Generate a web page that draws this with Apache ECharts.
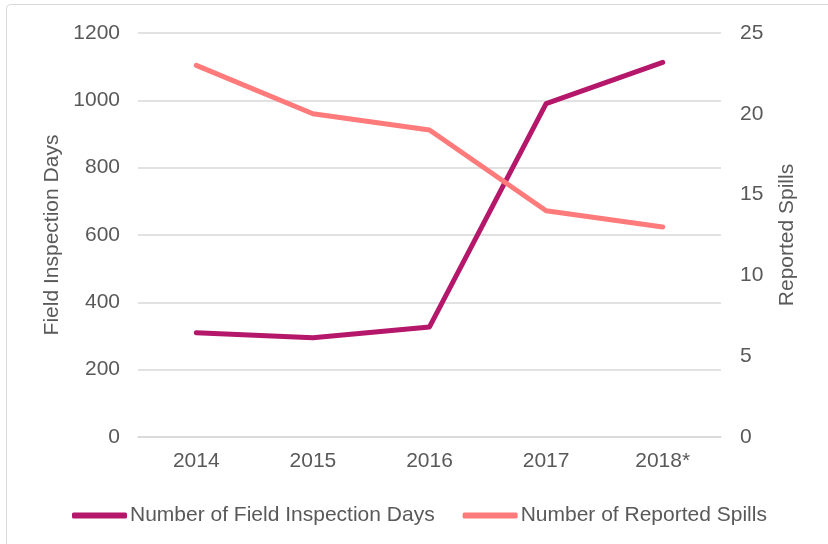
<!DOCTYPE html>
<html>
<head>
<meta charset="utf-8">
<script src="https://cdn.jsdelivr.net/npm/echarts@6/dist/echarts.min.js"></script>
<style>html,body{margin:0;padding:0;background:#fff}#c{width:828px;height:544px}</style>
</head>
<body>
<div id="c"></div>
<script>
var categories = ['2014', '2015', '2016', '2017', '2018*'];
var inspectionDays = [310, 295, 327, 990, 1113];
var reportedSpills = [23, 20, 19, 14, 13];
var leftTicks = {min: 0, max: 1200, interval: 200};
var rightTicks = {min: 0, max: 25, interval: 5};

var chart = echarts.init(document.getElementById('c'), null, {renderer: 'canvas'});
var font = 'Liberation Sans, Arial, sans-serif';
var txt = '#595959';
chart.setOption({
  backgroundColor: '#fff',
  animation: false,
  graphic: [{
    type: 'rect', shape: {x: 6.5, y: 4.5, width: 840, height: 560, r: 4},
    style: {fill: 'none', stroke: '#d9d9d9', lineWidth: 1}, silent: true
  }],
  grid: {left: 138, right: 107, top: 33, bottom: 107},
  legend: {
    left: 67, top: 500, icon: 'roundRect', itemWidth: 55, itemHeight: 6, itemGap: 28,
    textStyle: {fontFamily: font, fontSize: 21, color: txt, padding: [0, 0, 0, -2]},
    data: ['Number of Field Inspection Days', 'Number of Reported Spills']
  },
  xAxis: {
    type: 'category', data: categories, boundaryGap: true,
    axisLine: {lineStyle: {color: '#d9d9d9', width: 1.5}},
    axisTick: {show: false},
    axisLabel: {fontFamily: font, fontSize: 21, color: txt, margin: 14}
  },
  yAxis: [{
    type: 'value', min: leftTicks.min, max: leftTicks.max, interval: leftTicks.interval,
    name: 'Field Inspection Days', nameLocation: 'middle', nameGap: 71,
    nameTextStyle: {fontFamily: font, fontSize: 21, color: txt},
    axisLine: {show: false}, axisTick: {show: false},
    axisLabel: {fontFamily: font, fontSize: 21, color: txt, margin: 18, formatter: function (v) { return String(v); }},
    splitLine: {lineStyle: {color: '#d9d9d9', width: 1.5}}
  }, {
    type: 'value', min: rightTicks.min, max: rightTicks.max, interval: rightTicks.interval,
    name: 'Reported Spills', nameLocation: 'middle', nameGap: 56,
    nameTextStyle: {fontFamily: font, fontSize: 21, color: txt},
    axisLine: {show: false}, axisTick: {show: false},
    axisLabel: {fontFamily: font, fontSize: 21, color: txt, margin: 19, formatter: function (v) { return String(v); }},
    splitLine: {show: false}
  }],
  series: [{
    name: 'Number of Field Inspection Days', type: 'line', yAxisIndex: 0,
    data: inspectionDays, symbol: 'none', color: '#B5176B',
    lineStyle: {width: 5, color: '#B5176B', cap: 'round', join: 'round'}
  }, {
    name: 'Number of Reported Spills', type: 'line', yAxisIndex: 1,
    data: reportedSpills, symbol: 'none', color: '#FF7B7B',
    lineStyle: {width: 5, color: '#FF7B7B', cap: 'round', join: 'round'}
  }]
});
</script>
</body>
</html>
